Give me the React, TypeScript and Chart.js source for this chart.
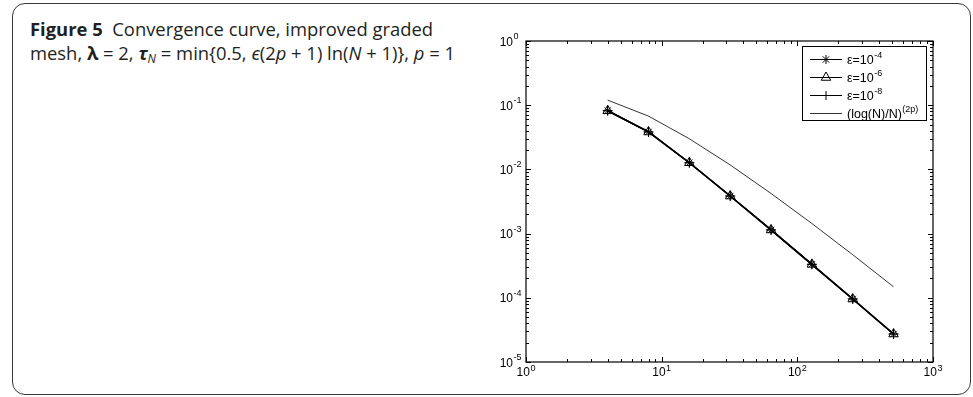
import React, { useEffect, useRef } from "react";
import { Chart, registerables } from "chart.js";

Chart.register(...registerables);

// Mesh sizes N and the maximum nodal errors for each perturbation parameter
const meshN = [4, 8, 16, 32, 64, 128, 256, 512];
const errEps4 = [0.082, 0.0383, 0.0127, 0.00385, 0.00114, 0.000332, 0.0000958, 0.0000273];
const errEps6 = [0.082, 0.0383, 0.0127, 0.00385, 0.00114, 0.000332, 0.0000958, 0.0000273];
const errEps8 = [0.082, 0.0383, 0.0127, 0.00385, 0.00114, 0.000332, 0.0000958, 0.0000273];
// Reference rate (log(N)/N)^(2p)
const refRate = [0.12, 0.0676, 0.03, 0.01173, 0.00422, 0.001437, 0.000469, 0.0001485];

// Decade exponents for the axis labels
const xTickExps = [0, 1, 2, 3];
const yTickExps = [0, -1, -2, -3, -4, -5];
// Legend entries
const legendExps = ["-4", "-6", "-8"];
const refLabelBase = "(log(N)/N)";
const refLabelExp = "(2p)";

const W = 973;
const H = 397;
const AXIS_FONT = "Liberation Sans, Arial, Helvetica, sans-serif";

function pts(vals: number[]) {
  return meshN.map((n, i) => ({ x: n, y: vals[i] }));
}

function drawMarker(ctx: CanvasRenderingContext2D, kind: string, x: number, y: number, r: number) {
  ctx.beginPath();
  if (kind === "star") {
    ctx.moveTo(x - r, y); ctx.lineTo(x + r, y);
    ctx.moveTo(x, y - r); ctx.lineTo(x, y + r);
    const d = r * Math.SQRT1_2;
    ctx.moveTo(x - d, y - d); ctx.lineTo(x + d, y + d);
    ctx.moveTo(x - d, y + d); ctx.lineTo(x + d, y - d);
  } else if (kind === "triangle") {
    let a = 0;
    ctx.moveTo(x + Math.sin(a) * r, y - Math.cos(a) * r);
    a += (2 * Math.PI) / 3;
    ctx.lineTo(x + Math.sin(a) * r, y - Math.cos(a) * r);
    a += (2 * Math.PI) / 3;
    ctx.lineTo(x + Math.sin(a) * r, y - Math.cos(a) * r);
    ctx.closePath();
  } else if (kind === "cross") {
    ctx.moveTo(x - r, y); ctx.lineTo(x + r, y);
    ctx.moveTo(x, y - r); ctx.lineTo(x, y + r);
  }
  ctx.stroke();
}

function powWidth(ctx: CanvasRenderingContext2D, base: string, exp: string, bs: number, es: number) {
  ctx.font = `${bs}px ${AXIS_FONT}`;
  const w1 = ctx.measureText(base).width;
  ctx.font = `${es}px ${AXIS_FONT}`;
  const w2 = ctx.measureText(exp).width;
  return [w1, w2];
}

// Draws "base" followed by a raised, smaller "exp"
function drawPow(
  ctx: CanvasRenderingContext2D,
  base: string,
  exp: string,
  x: number,
  baseline: number,
  rise: number,
  bs: number,
  es: number
) {
  const [w1] = powWidth(ctx, base, exp, bs, es);
  ctx.textAlign = "left";
  ctx.textBaseline = "alphabetic";
  ctx.font = `${bs}px ${AXIS_FONT}`;
  ctx.fillText(base, x, baseline);
  ctx.font = `${es}px ${AXIS_FONT}`;
  ctx.fillText(exp, x + w1 + 0.5, baseline - rise);
}

const axesPlugin = {
  id: "matlabAxes",
  afterDraw(chart: any) {
    const ctx: CanvasRenderingContext2D = chart.ctx;
    const xs = chart.scales.x;
    const ys = chart.scales.y;
    const a = chart.chartArea;
    ctx.save();
    ctx.strokeStyle = "#000";
    ctx.fillStyle = "#000";
    ctx.lineWidth = 1.2;
    ctx.strokeRect(a.left, a.top, a.right - a.left, a.bottom - a.top);

    // inward ticks on all four sides (decades major, 2..9 minor)
    ctx.lineWidth = 1;
    const major = 5;
    const minor = 3;
    ctx.beginPath();
    for (const e of xTickExps) {
      for (let m = 1; m <= 9; m++) {
        const v = m * Math.pow(10, e);
        if (v < xs.min || v > xs.max * 1.0001) continue;
        const px = Math.round(xs.getPixelForValue(v)) + 0.5;
        const len = m === 1 ? major : minor;
        ctx.moveTo(px, a.bottom); ctx.lineTo(px, a.bottom - len);
        ctx.moveTo(px, a.top); ctx.lineTo(px, a.top + len);
      }
    }
    for (const e of yTickExps) {
      for (let m = 1; m <= 9; m++) {
        const v = m * Math.pow(10, e);
        if (v < ys.min * 0.9999 || v > ys.max * 1.0001) continue;
        const py = Math.round(ys.getPixelForValue(v)) + 0.5;
        const len = m === 1 ? major : minor;
        ctx.moveTo(a.left, py); ctx.lineTo(a.left + len, py);
        ctx.moveTo(a.right, py); ctx.lineTo(a.right - len, py);
      }
    }
    ctx.stroke();

    // tick labels 10^k
    const bs = 12;
    const es = 9;
    for (const e of xTickExps) {
      const px = xs.getPixelForValue(Math.pow(10, e));
      const [w1, w2] = powWidth(ctx, "10", String(e), bs, es);
      const tw = w1 + 0.5 + w2;
      drawPow(ctx, "10", String(e), px - tw / 2, a.bottom + 14, 5, bs, es);
    }
    for (const e of yTickExps) {
      const py = ys.getPixelForValue(Math.pow(10, e));
      const [w1] = powWidth(ctx, "10", String(e), bs, es);
      drawPow(ctx, "10", String(e), a.left - 13 - w1, py + 4.5, 6.5, bs, es);
    }

    // legend
    const lx = 802.5, ly = 46.5, lw = 124, lh = 74;
    ctx.fillStyle = "#fff";
    ctx.fillRect(lx, ly, lw, lh);
    ctx.strokeStyle = "#000";
    ctx.lineWidth = 1;
    ctx.strokeRect(lx, ly, lw, lh);
    ctx.fillStyle = "#000";
    const rows = [59.5, 77.5, 95.5, 113.5];
    const kinds = ["star", "triangle", "cross"];
    const lbs = 12.5;
    const les = 9;
    for (let i = 0; i < 4; i++) {
      const y = rows[i];
      ctx.lineWidth = i < 3 ? 1 : 0.8;
      ctx.beginPath();
      ctx.moveTo(810, y); ctx.lineTo(842, y);
      ctx.stroke();
      if (i < 3) {
        ctx.lineWidth = 1;
        drawMarker(ctx, kinds[i], 826, y, kinds[i] === "triangle" ? 5.5 : 4.5);
        drawPow(ctx, "\u03b5=10", legendExps[i], 847, y + 4.5, 6.5, lbs, les);
      } else {
        drawPow(ctx, refLabelBase, refLabelExp, 847, y + 4.5, 6.5, lbs, les);
      }
    }
    ctx.restore();
  },
};

function ConvergenceChart() {
  const ref = useRef<HTMLCanvasElement | null>(null);
  useEffect(() => {
    if (!ref.current) return;
    const common = {
      borderColor: "#000",
      borderWidth: 1.5,
      pointBorderColor: "#000",
      pointBorderWidth: 1,
      pointBackgroundColor: "rgba(0,0,0,0)",
    };
    const chart = new Chart(ref.current, {
      type: "line",
      data: {
        datasets: [
          { label: "eps4", data: pts(errEps4), pointStyle: "star", pointRadius: 4.5, ...common },
          { label: "eps6", data: pts(errEps6), pointStyle: "triangle", pointRadius: 5.5, ...common },
          { label: "eps8", data: pts(errEps8), pointStyle: "cross", pointRadius: 5, ...common },
          { label: "ref", data: pts(refRate), borderColor: "#000", borderWidth: 0.8, pointRadius: 0 },
        ],
      },
      options: {
        responsive: false,
        animation: false,
        devicePixelRatio: 1,
        layout: { padding: { left: 526, top: 41, right: 40, bottom: 35 } },
        plugins: { legend: { display: false }, tooltip: { enabled: false } },
        scales: {
          x: { type: "logarithmic", min: 1, max: 1000, display: false },
          y: { type: "logarithmic", min: 1e-5, max: 1, display: false },
        },
      },
      plugins: [axesPlugin],
    });
    return () => chart.destroy();
  }, []);
  return (
    <canvas
      ref={ref}
      width={W}
      height={H}
      style={{ position: "absolute", left: 0, top: 0, width: W, height: H }}
    />
  );
}

export default function App() {
  return (
    <div style={{ position: "absolute", left: 0, top: 0, width: W, height: H, background: "#fff" }}>
      <div
        style={{
          position: "absolute",
          left: 11.5,
          top: 3,
          width: 959,
          height: 392,
          boxSizing: "border-box",
          border: "1.5px solid #3a3a3a",
          borderRadius: 13,
        }}
      />
      <div
        style={{
          position: "absolute",
          left: 30,
          top: 17,
          fontFamily: "'Open Sans', 'Noto Sans', sans-serif",
          fontSize: 18.4,
          lineHeight: "24px",
          color: "#231f20",
          whiteSpace: "nowrap",
        }}
      >
        <b>Figure 5</b>&nbsp; Convergence curve, improved graded
        <br />
        mesh, <b>λ</b> = 2, <b><i>τ</i></b>
        <sub style={{ fontSize: 12, verticalAlign: "-3px" }}><i>N</i></sub> = min{"{"}0.5,{" "}
        <i>ϵ</i>(2<i>p</i> + 1) ln(<i>N</i> + 1){"}"}, <i>p</i> = 1
      </div>
      <ConvergenceChart />
    </div>
  );
}
